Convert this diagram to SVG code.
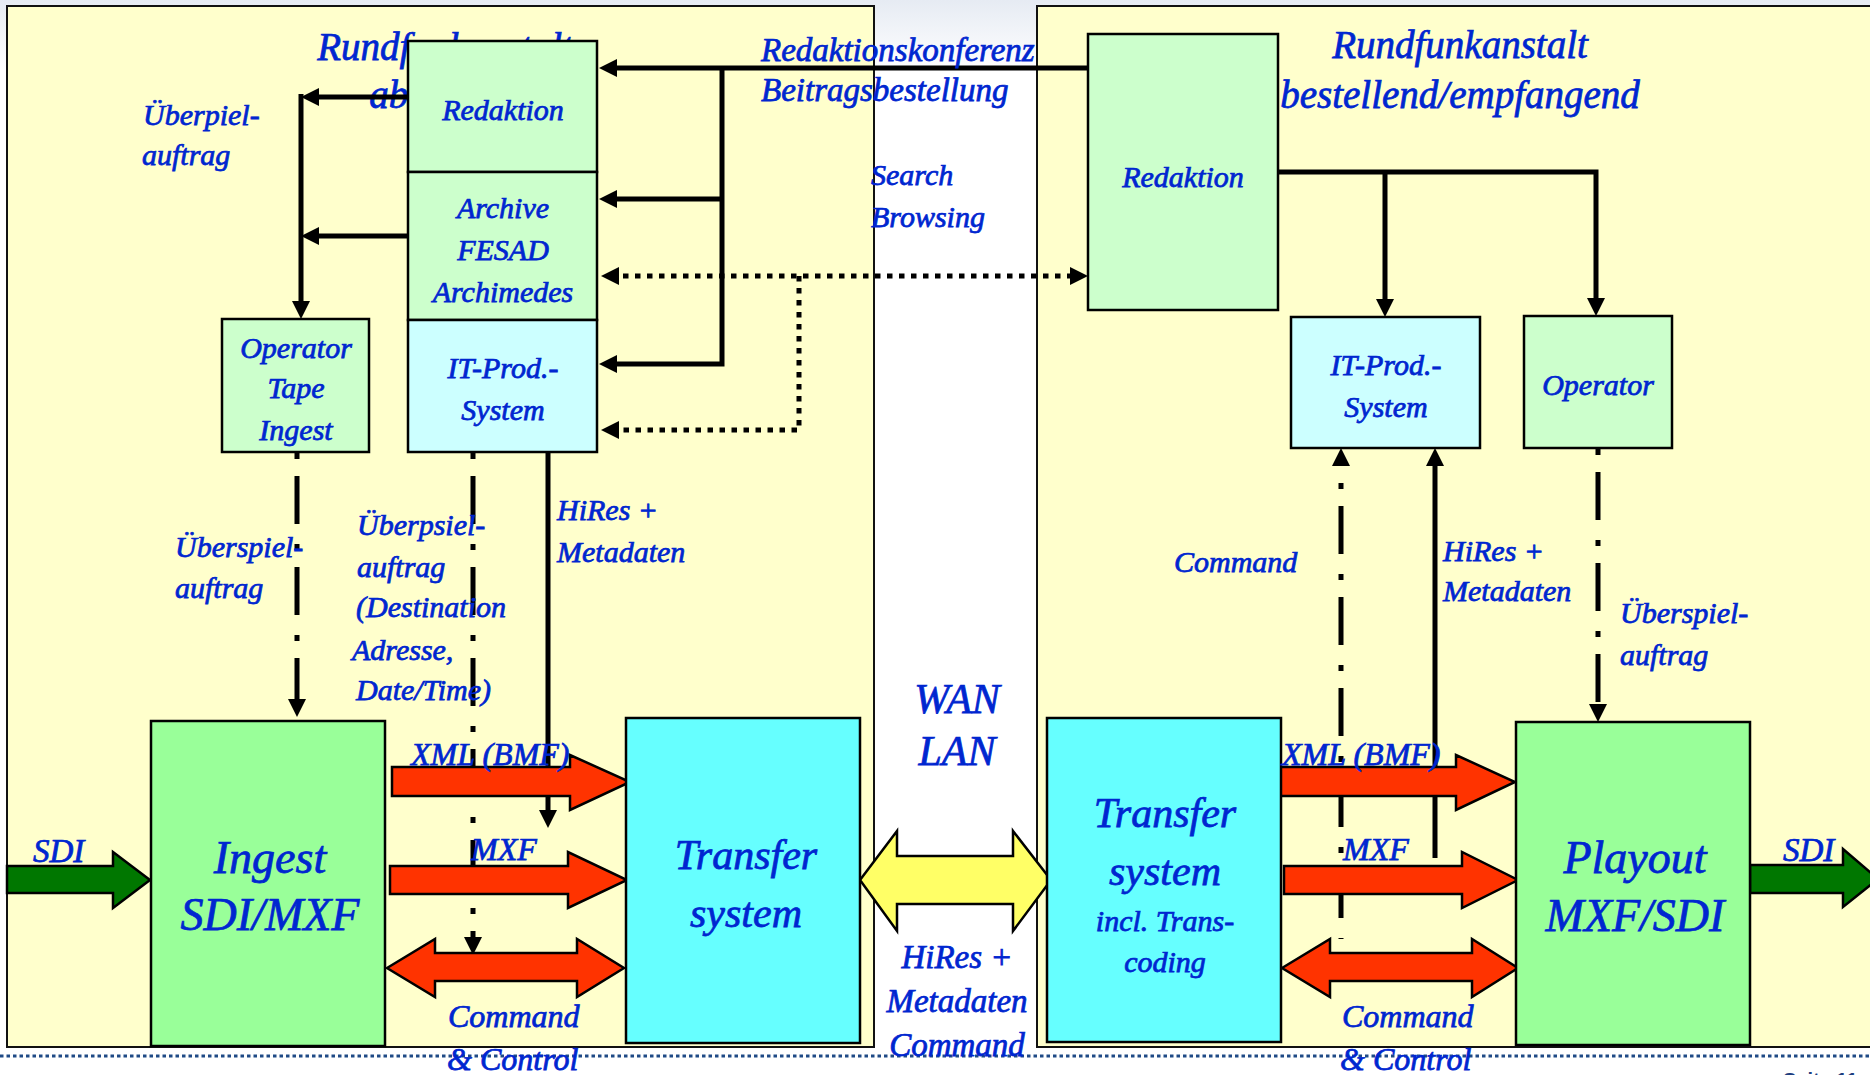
<svg xmlns="http://www.w3.org/2000/svg" width="1870" height="1075" viewBox="0 0 1870 1075">
<defs>
  <linearGradient id="topg" x1="0" y1="0" x2="0" y2="1">
    <stop offset="0" stop-color="#E6EBF3"/>
    <stop offset="1" stop-color="#FFFFFF"/>
  </linearGradient>
  <marker id="ah" viewBox="0 0 18 18" refX="8" refY="9" markerWidth="18" markerHeight="18" markerUnits="userSpaceOnUse" orient="auto-start-reverse">
    <path d="M0,0 L18,9 L0,18 z" fill="#000"/>
  </marker>
  <style>
    .panel { fill: #FFFFCC; stroke: #111; stroke-width: 2; }
    .box { stroke: #000; stroke-width: 2.5; }
    .lg { fill: #CCFFCC; }
    .lc { fill: #CCFFFF; }
    .g2 { fill: #99FF99; }
    .c2 { fill: #66FFFF; }
    .ln { fill: none; stroke: #000; stroke-width: 5; }
    .dot { fill: none; stroke: #000; stroke-width: 5; stroke-dasharray: 5.5 6.5; }
    .dd { fill: none; stroke: #000; stroke-width: 5; stroke-dasharray: 6 17 48 20; }
    .red { fill: #FF3300; stroke: #000; stroke-width: 2.5; }
    .yel { fill: #FFFF66; stroke: #000; stroke-width: 2.5; }
    .grn { fill: #007700; stroke: #000; stroke-width: 2.5; }
    text { font-family: "Liberation Serif", "Times New Roman", serif; font-style: italic; fill: #0026D0; stroke: #0026D0; stroke-width: 0.75; }
    .s30 { font-size: 30px; }
    .s32 { font-size: 32px; }
    .s33 { font-size: 33px; }
    .s38 { font-size: 39px; }
    .s42 { font-size: 42px; }
    .s46 { font-size: 46px; }
    .m { text-anchor: middle; }
  </style>
</defs>

<rect x="0" y="0" width="1870" height="1075" fill="#FFFFFF"/>
<rect x="0" y="0" width="1870" height="70" fill="url(#topg)"/>

<g id="panel-left">
  <rect class="panel" x="7" y="6" width="867" height="1041"/>
  <text class="s38 m" x="445" y="60">Rundfunkanstalt</text>
  <text class="s38 m" x="445" y="108">abgebend</text>
</g>
<g id="panel-right">
  <rect class="panel" x="1037" y="6" width="845" height="1041"/>
  <text class="s38 m" x="1460" y="58">Rundfunkanstalt</text>
  <text class="s38 m" x="1460" y="108">bestellend/empfangend</text>
</g>

<line x1="0" y1="1056" x2="1870" y2="1056" stroke="#1F4A86" stroke-width="3" stroke-dasharray="3.5 3"/>
<text x="1783" y="1087" style="font-family:'Liberation Sans',Arial,sans-serif;font-style:normal;font-weight:bold;font-size:20px;fill:#1F3F7F;stroke:none">Seite 11</text>

<g id="connectors">
  <path class="ln" d="M1088,68 H609" marker-end="url(#ah)"/>
  <path class="ln" d="M722,68 V364 H609" marker-end="url(#ah)"/>
  <path class="ln" d="M722,199 H609" marker-end="url(#ah)"/>
  <path class="ln" d="M408,97 H311" marker-end="url(#ah)"/>
  <path class="ln" d="M301,94 V309" marker-end="url(#ah)"/>
  <path class="ln" d="M408,236 H311" marker-end="url(#ah)"/>
  <path class="dot" d="M611,276 H1078" marker-start="url(#ah)" marker-end="url(#ah)"/>
  <path class="dot" d="M799,276 V430 H611" marker-end="url(#ah)"/>
  <path class="dd" d="M297,453 V707" marker-end="url(#ah)"/>
  <path class="dd" d="M473,453 V945" marker-end="url(#ah)"/>
  <path class="ln" d="M548,452 V818" marker-end="url(#ah)"/>
  <path class="ln" d="M1278,172 H1596 V306" marker-end="url(#ah)"/>
  <path class="ln" d="M1385,172 V307" marker-end="url(#ah)"/>
  <path class="dd" d="M1341,458 V939" stroke-dashoffset="66" marker-start="url(#ah)"/>
  <path class="ln" d="M1435,858 V458" marker-end="url(#ah)"/>
  <path class="dd" d="M1598,449 V712" marker-end="url(#ah)"/>

  <polygon class="grn" points="7,866 113,866 113,852 150,880 113,908 113,893 7,893"/>
  <polygon class="red" points="392,767 570,767 570,755 630,782 570,810 570,796 392,796"/>
  <polygon class="red" points="390,866 568,866 568,852 627,880 568,908 568,894 390,894"/>
  <polygon class="red" points="387,968 435,939 435,953 577,953 577,939 624,968 577,997 577,981 435,981 435,997"/>
  <polygon class="yel" points="860,880 897,831 897,856 1013,856 1013,831 1051,880 1013,931 1013,904 897,904 897,931"/>
  <polygon class="red" points="1279,767 1456,767 1456,755 1515,782 1456,810 1456,796 1279,796"/>
  <polygon class="red" points="1284,866 1462,866 1462,852 1518,880 1462,908 1462,894 1284,894"/>
  <polygon class="red" points="1282,968 1330,939 1330,953 1472,953 1472,939 1518,968 1472,997 1472,981 1330,981 1330,997"/>
  <polygon class="grn" points="1750,865 1843,865 1843,849 1878,879 1843,907 1843,893 1750,893"/>
</g>

<g id="redaktion-left">
  <rect class="box lg" x="408" y="41" width="189" height="131"/>
  <text class="s30 m" x="503" y="120">Redaktion</text>
</g>
<g id="archive">
  <rect class="box lg" x="408" y="172" width="189" height="148"/>
  <text class="s30 m" x="503" y="218">Archive</text>
  <text class="s30 m" x="503" y="260">FESAD</text>
  <text class="s30 m" x="503" y="302">Archimedes</text>
</g>
<g id="it-prod-left">
  <rect class="box lc" x="408" y="320" width="189" height="132"/>
  <text class="s30 m" x="503" y="378">IT-Prod.-</text>
  <text class="s30 m" x="503" y="420">System</text>
</g>
<g id="operator-tape">
  <rect class="box lg" x="222" y="319" width="147" height="133"/>
  <text class="s30 m" x="296" y="358">Operator</text>
  <text class="s30 m" x="296" y="398">Tape</text>
  <text class="s30 m" x="296" y="440">Ingest</text>
</g>
<g id="redaktion-right">
  <rect class="box lg" x="1088" y="34" width="190" height="276"/>
  <text class="s30 m" x="1183" y="187">Redaktion</text>
</g>
<g id="it-prod-right">
  <rect class="box lc" x="1291" y="317" width="189" height="131"/>
  <text class="s30 m" x="1386" y="375">IT-Prod.-</text>
  <text class="s30 m" x="1386" y="417">System</text>
</g>
<g id="operator-right">
  <rect class="box lg" x="1524" y="316" width="148" height="132"/>
  <text class="s30 m" x="1598" y="395">Operator</text>
</g>
<g id="ingest">
  <rect class="box g2" x="151" y="721" width="234" height="325"/>
  <text class="s46 m" x="270" y="873">Ingest</text>
  <text class="s46 m" x="270" y="930">SDI/MXF</text>
</g>
<g id="transfer-left">
  <rect class="box c2" x="626" y="718" width="234" height="325"/>
  <text class="s42 m" x="746" y="869">Transfer</text>
  <text class="s42 m" x="746" y="927">system</text>
</g>
<g id="transfer-right">
  <rect class="box c2" x="1047" y="718" width="234" height="324"/>
  <text class="s42 m" x="1165" y="827">Transfer</text>
  <text class="s42 m" x="1165" y="885">system</text>
  <text class="s30 m" x="1165" y="931">incl. Trans-</text>
  <text class="s30 m" x="1165" y="972">coding</text>
</g>
<g id="playout">
  <rect class="box g2" x="1516" y="722" width="234" height="323"/>
  <text class="s46 m" x="1635" y="873">Playout</text>
  <text class="s46 m" x="1635" y="931">MXF/SDI</text>
</g>

<g id="labels">
  <text class="s30" x="143" y="125">Überpiel-</text>
  <text class="s30" x="142" y="165">auftrag</text>
  <text class="s33" x="761" y="61">Redaktionskonferenz</text>
  <text class="s33" x="761" y="101">Beitragsbestellung</text>
  <text class="s30" x="871" y="185">Search</text>
  <text class="s30" x="871" y="227">Browsing</text>
  <text class="s30" x="175" y="557">Überspiel-</text>
  <text class="s30" x="175" y="598">auftrag</text>
  <text class="s30" x="357" y="535">Überpsiel-</text>
  <text class="s30" x="357" y="577">auftrag</text>
  <text class="s30" x="356" y="617">(Destination</text>
  <text class="s30" x="352" y="660">Adresse,</text>
  <text class="s30" x="356" y="700">Date/Time)</text>
  <text class="s30" x="557" y="520">HiRes +</text>
  <text class="s30" x="557" y="562">Metadaten</text>
  <text class="s32" x="411" y="765">XML (BMF)</text>
  <text class="s32" x="471" y="860">MXF</text>
  <text class="s32" x="448" y="1027">Command</text>
  <text class="s32" x="447" y="1070">&amp; Control</text>
  <text class="s33" x="33" y="862">SDI</text>
  <text class="s42 m" x="957" y="713">WAN</text>
  <text class="s42 m" x="957" y="765">LAN</text>
  <text class="s33 m" x="957" y="968">HiRes +</text>
  <text class="s33 m" x="957" y="1012">Metadaten</text>
  <text class="s33 m" x="957" y="1056">Command</text>
  <text class="s30" x="1174" y="572">Command</text>
  <text class="s30" x="1443" y="561">HiRes +</text>
  <text class="s30" x="1443" y="601">Metadaten</text>
  <text class="s30" x="1620" y="623">Überspiel-</text>
  <text class="s30" x="1620" y="665">auftrag</text>
  <text class="s32" x="1282" y="765">XML (BMF)</text>
  <text class="s32" x="1343" y="860">MXF</text>
  <text class="s32" x="1342" y="1027">Command</text>
  <text class="s32" x="1340" y="1070">&amp; Control</text>
  <text class="s33" x="1783" y="861">SDI</text>
</g>
</svg>
